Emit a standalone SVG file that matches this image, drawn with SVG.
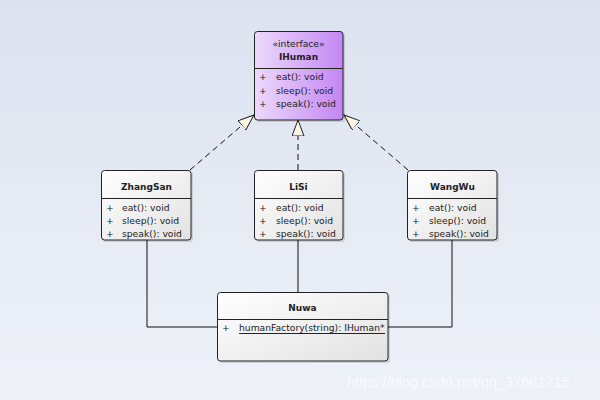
<svg xmlns="http://www.w3.org/2000/svg" width="600" height="400" viewBox="0 0 600 400">
<defs>
<linearGradient id="bg" x1="0" y1="0" x2="0" y2="1">
<stop offset="0" stop-color="#dce3ef"/>
<stop offset="1" stop-color="#eef1f8"/>
</linearGradient>
<linearGradient id="purple" x1="0" y1="0" x2="1" y2="0">
<stop offset="0" stop-color="#ecd9fb"/>
<stop offset="1" stop-color="#c386f3"/>
</linearGradient>
<linearGradient id="gray" x1="0" y1="0" x2="1" y2="1">
<stop offset="0" stop-color="#ffffff"/>
<stop offset="1" stop-color="#e2e2e2"/>
</linearGradient>
<marker id="tri" markerUnits="userSpaceOnUse" markerWidth="18" markerHeight="14" refX="16" refY="6" orient="auto" viewBox="0 0 18 14">
<path d="M0,0 L16,6 L0,12 z" fill="#fdf6e4" stroke="#222" stroke-width="1" stroke-dasharray="none"/>
</marker>
</defs>
<style>
.box{stroke:#222;stroke-width:1}
.shadow{fill:#000;opacity:0.12}
.div{stroke:#222;stroke-width:1}
text{font-family:"DejaVu Sans","Liberation Sans",sans-serif;font-size:9.2px;fill:#222}
.title{font-weight:bold;font-size:9px;text-anchor:middle}
.st{text-anchor:middle}
.conn{fill:none;stroke:#111;stroke-width:1}
.dash{stroke-dasharray:6,4}
.wm{font-family:"Liberation Sans",sans-serif;font-size:14.5px;fill:#ffffff;opacity:0.75}
</style>
<rect width="600" height="400" fill="url(#bg)"/>

<g id="connectors">
<path class="conn" d="M147,240 V327 H217"/>
<path class="conn" d="M452,240 V327 H388"/>
<path class="conn" d="M298,240 V292"/>
<path class="conn dash" d="M190,170 L254,115" marker-end="url(#tri)"/>
<path class="conn dash" d="M408,170 L344,115" marker-end="url(#tri)"/>
<path class="conn dash" d="M298,170 L298,120" marker-end="url(#tri)"/>
</g>

<g id="IHuman">
<rect class="shadow" x="256" y="33" width="89" height="89" rx="3"/>
<rect class="box" x="254.5" y="31.5" width="88.5" height="88.5" rx="3" fill="url(#purple)"/>
<line class="div" x1="254.5" y1="68.5" x2="343" y2="68.5"/>
<text class="st" x="298.5" y="47">«interface»</text>
<text class="title" x="298.5" y="60">IHuman</text>
<text x="259" y="80">+</text><text x="276" y="80">eat(): void</text>
<text x="259" y="94">+</text><text x="276" y="94">sleep(): void</text>
<text x="259" y="107">+</text><text x="276" y="107">speak(): void</text>
</g>

<g id="ZhangSan">
<rect class="shadow" x="103" y="172" width="90" height="70" rx="3"/>
<rect class="box" x="101.5" y="170.5" width="89.5" height="69.5" rx="3" fill="url(#gray)"/>
<line class="div" x1="101.5" y1="198.5" x2="191" y2="198.5"/>
<text class="title" x="146.5" y="189.5">ZhangSan</text>
<text x="106" y="211">+</text><text x="122" y="211">eat(): void</text>
<text x="106" y="224">+</text><text x="122" y="224">sleep(): void</text>
<text x="106" y="237">+</text><text x="122" y="237">speak(): void</text>
</g>

<g id="LiSi">
<rect class="shadow" x="256" y="172" width="89" height="70" rx="3"/>
<rect class="box" x="254.5" y="170.5" width="88.5" height="69.5" rx="3" fill="url(#gray)"/>
<line class="div" x1="254.5" y1="198.5" x2="343" y2="198.5"/>
<text class="title" x="298.5" y="189.5">LiSi</text>
<text x="259" y="211">+</text><text x="276" y="211">eat(): void</text>
<text x="259" y="224">+</text><text x="276" y="224">sleep(): void</text>
<text x="259" y="237">+</text><text x="276" y="237">speak(): void</text>
</g>

<g id="WangWu">
<rect class="shadow" x="409" y="172" width="90" height="70" rx="3"/>
<rect class="box" x="407.5" y="170.5" width="89.5" height="69.5" rx="3" fill="url(#gray)"/>
<line class="div" x1="407.5" y1="198.5" x2="497" y2="198.5"/>
<text class="title" x="452.5" y="189.5">WangWu</text>
<text x="412" y="211">+</text><text x="429" y="211">eat(): void</text>
<text x="412" y="224">+</text><text x="429" y="224">sleep(): void</text>
<text x="412" y="237">+</text><text x="429" y="237">speak(): void</text>
</g>

<g id="Nuwa">
<rect class="shadow" x="219" y="294" width="171" height="69" rx="3"/>
<rect class="box" x="217.5" y="292.5" width="170.5" height="68.5" rx="3" fill="url(#gray)"/>
<line class="div" x1="217.5" y1="319.5" x2="388" y2="319.5"/>
<text class="title" x="302.5" y="311">Nuwa</text>
<text x="222" y="331">+</text><text x="239" y="331">humanFactory(string): IHuman*</text>
<line x1="239" y1="333.5" x2="385" y2="333.5" stroke="#222" stroke-width="1"/>
</g>

<text class="wm" x="347" y="387">https://blog.csdn.net/qq_37661715</text>
</svg>
